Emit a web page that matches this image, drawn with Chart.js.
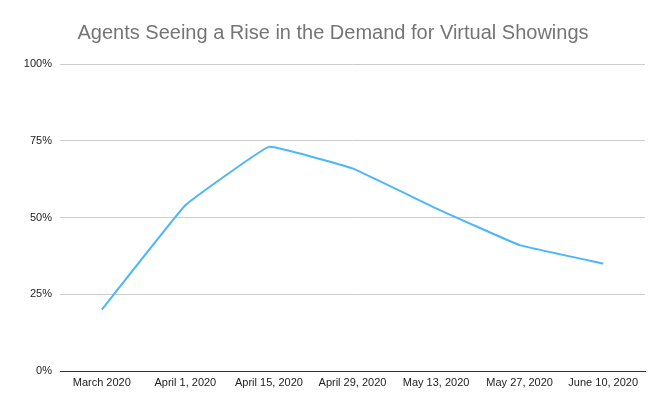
<!DOCTYPE html>
<html>
<head>
<meta charset="utf-8">
<script src="https://cdn.jsdelivr.net/npm/chart.js@4/dist/chart.umd.min.js"></script>
<style>
  html, body { margin: 0; padding: 0; background: #fff; }
  #wrap { width: 666px; height: 412px; }
</style>
</head>
<body>
<div id="wrap"><canvas id="chart" width="666" height="412"></canvas></div>
<script>
const categories = ['March 2020', 'April 1, 2020', 'April 15, 2020', 'April 29, 2020', 'May 13, 2020', 'May 27, 2020', 'June 10, 2020'];
const demandPct = [20, 54, 73, 66, 53, 41, 35];
const yTicks = [0, 25, 50, 75, 100];

const ctx = document.getElementById('chart').getContext('2d');
new Chart(ctx, {
  type: 'line',
  data: {
    labels: categories,
    datasets: [{
      label: 'Demand',
      data: demandPct,
      borderColor: '#4cb6fb',
      borderWidth: 2,
      pointRadius: 0,
      tension: 0.07,
      fill: false
    }]
  },
  options: {
    responsive: false,
    animation: false,
    layout: { padding: 0 },
    plugins: {
      legend: { display: false },
      tooltip: { enabled: false },
      title: {
        display: true,
        text: 'Agents Seeing a Rise in the Demand for Virtual Showings',
        color: '#757575',
        font: { family: 'Liberation Sans, Arial, sans-serif', size: 20, weight: 'normal' },
        padding: { top: 21, bottom: 19 }
      }
    },
    scales: {
      x: {
        offset: true,
        grid: { display: false, drawTicks: false },
        border: { display: true, color: '#333333', width: 1 },
        ticks: {
          color: '#222222',
          maxRotation: 0,
          autoSkip: false,
          padding: 5,
          font: { family: 'Liberation Sans, Arial, sans-serif', size: 11 }
        },
        afterFit: s => { s.height = 41; }
      },
      y: {
        min: 0,
        max: 100,
        afterBuildTicks: s => { s.ticks = yTicks.map(v => ({ value: v })); },
        grid: { color: '#cccccc', drawTicks: false, lineWidth: 1 },
        border: { display: false },
        ticks: {
          color: '#222222',
          padding: 8,
          callback: v => v + '%',
          font: { family: 'Liberation Sans, Arial, sans-serif', size: 11 }
        },
        afterFit: s => { s.width = 60; }
      },
      // empty right-hand gutter so the title stays centred on the canvas
      yRight: {
        position: 'right',
        min: 0,
        max: 100,
        grid: { display: false, drawTicks: false },
        border: { display: false },
        ticks: { display: false },
        afterFit: s => { s.width = 21; }
      }
    }
  }
});
</script>
</body>
</html>
